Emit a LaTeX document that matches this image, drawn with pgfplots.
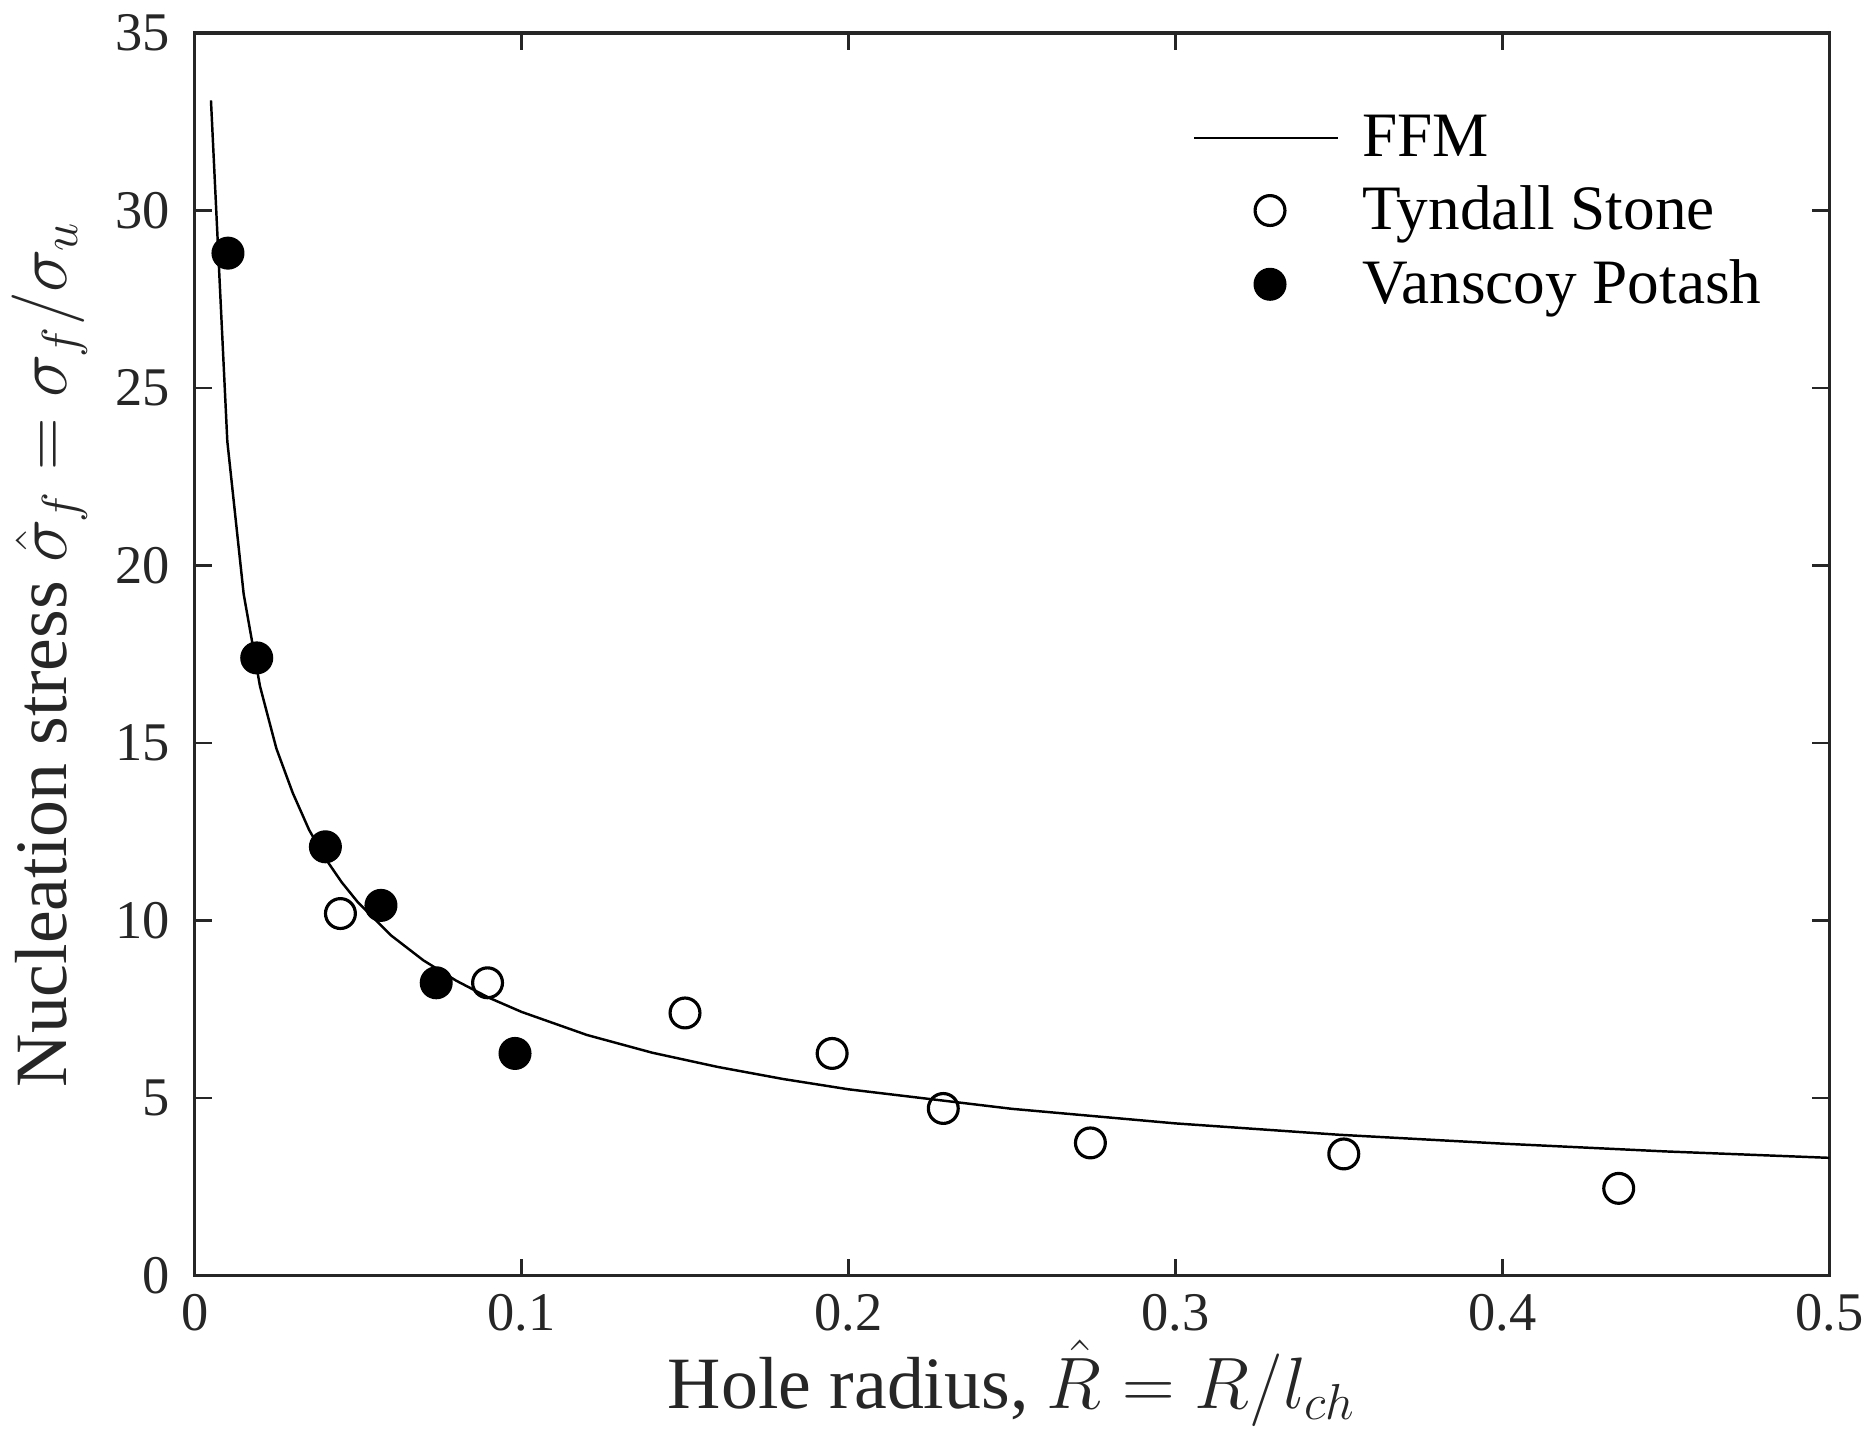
\documentclass[border=0pt]{standalone}
\usepackage{fontspec}
\setmainfont{Liberation Serif}
\usepackage{pgfplots}
\pgfplotsset{compat=1.18}
\definecolor{axgray}{RGB}{38,38,38}

\pgfplotsset{
    linelegend/.style={legend image code/.code={\draw[##1] (0cm,0cm) -- (1.44cm,0cm); \path (1.6cm,0cm);}},
    marklegend/.style={legend image code/.code={\draw[##1] plot coordinates {(0.76cm,0cm)}; \path (0cm,0cm) (1.6cm,0cm);}},
}

% FFM curve
\pgfplotstableread{
R     s
0.005 33.1
0.010 23.5
0.015 19.2
0.020 16.6
0.025 14.85
0.030 13.6
0.035 12.56
0.040 11.75
0.045 11.08
0.050 10.51
0.060 9.59
0.070 8.88
0.080 8.31
0.090 7.83
0.100 7.43
0.120 6.78
0.140 6.28
0.160 5.88
0.180 5.54
0.200 5.25
0.250 4.70
0.300 4.29
0.350 3.97
0.400 3.72
0.450 3.50
0.500 3.32
}\ffm

\begin{document}
\begin{tikzpicture}
\begin{axis}[
    scale only axis,
    width=16.35cm, height=12.43cm,
    xmin=0, xmax=0.5, ymin=0, ymax=35,
    xtick={0,0.1,0.2,0.3,0.4,0.5},
    ytick={0,5,10,15,20,25,30,35},
    tick align=inside,
    major tick length=0.17cm,
    axis line style={axgray, line width=0.9pt},
    every tick/.style={axgray, line width=0.7pt},
    ticklabel style={font=\fontsize{15.5}{18}\selectfont, text=axgray},
    /pgf/number format/assume math mode=true,
    xticklabel style={yshift=-0.06cm, /pgf/number format/fixed, /pgf/number format/precision=1},
    yticklabel style={xshift=-0.12cm},
    xlabel={Hole radius, $\hat{R}=R/l_{ch}$},
    ylabel={Nucleation stress $\hat{\sigma}_f=\sigma_f/\sigma_u$},
    label style={font=\fontsize{21}{25}\selectfont, text=axgray},
    xlabel style={at={(axis description cs:0.5,-0.107)}, anchor=base},
    ylabel style={at={(axis description cs:-0.0785,0.5)}, anchor=base},
    legend style={at={(axis description cs:0.61,0.9405)}, anchor=north west,
        draw=none, fill=none, font=\fontsize{18}{21}\selectfont,
        row sep=3pt, inner sep=0pt},
    legend cell align=left,
]
\addplot[black, line width=0.7pt, mark=none, linelegend]
    table[x=R, y=s] {\ffm};
\addlegendentry{FFM}

\addplot[only marks, mark=o, mark size=4.25pt, black, line width=0.9pt, marklegend]
    coordinates {
    (0.0446,10.2) (0.0896,8.25) (0.150,7.40) (0.195,6.26)
    (0.229,4.71) (0.274,3.74) (0.3515,3.43) (0.4356,2.46)
};
\addlegendentry{Tyndall Stone}

\addplot[only marks, mark=*, mark size=4.5pt, black, line width=0.4pt, marklegend]
    coordinates {
    (0.0102,28.8) (0.0190,17.4) (0.0400,12.08) (0.0570,10.43)
    (0.0739,8.25) (0.0980,6.26)
};
\addlegendentry{Vanscoy Potash}
\end{axis}
% a little white space below and above, as in the reference
\path ([yshift=-0.17cm]current bounding box.south)
      ([yshift=0.03cm]current bounding box.north);
\end{tikzpicture}
\end{document}
